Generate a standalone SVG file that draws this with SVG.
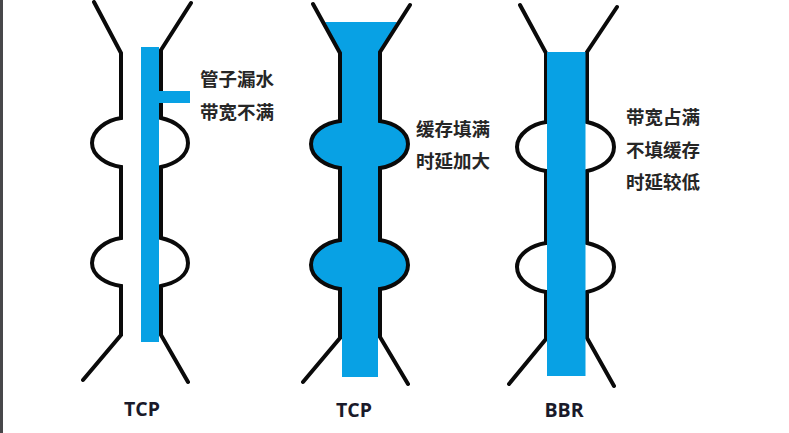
<svg xmlns="http://www.w3.org/2000/svg" width="789" height="433" viewBox="0 0 789 433">
<style>
.w{fill:none;stroke:#0a0a0a;stroke-width:4;stroke-linecap:round;stroke-linejoin:miter}
.b{fill:#08a1e4}
.f{fill:#08a1e4;stroke:none}
.t{font-family:"Noto Sans CJK SC","Noto Sans",sans-serif;font-size:18.500px;font-weight:700;fill:#262626}
.l{font-family:"Open Sans","Liberation Sans",sans-serif;font-size:19.500px;font-weight:700;fill:#1a1a2a;text-anchor:middle}
</style>
<rect width="789" height="433" fill="#fff"/>
<rect width="3" height="433" fill="#47474a"/>
<g id="pipe1">
<path class="w" d="M94 2L121 53V118C107 120 92 130 92 143C92 156 107 165 121 167V238C107 240 92 250 92 263C92 276 107 284 121 286V335L83 380"/>
<path class="w" d="M191 3L161 50V118C175 121 188 130 188 143C188 156 175 164 161 167V238C175 241 188 250 188 263C188 276 175 283 161 286V335L188 382"/>
<rect class="b" x="141" y="47" width="18" height="295"/>
<rect class="b" x="159" y="91" width="31" height="12"/>
<text class="t" x="200" y="86">管子漏水</text>
<text class="t" x="200" y="119">带宽不满</text>
<text class="l" x="142" y="416">TCP</text>
</g>
<g id="pipe2">
<path class="f" d="M325 22H397L380 52V121C394 123 408 131 408 144C408 157 394 166 380 168V240C394 242 408 252 408 265C408 278 394 287 380 289V338H378V377H342V338H340V289C326 287 311 278 311 265C311 252 326 242 340 240V168C326 166 311 157 311 144C311 131 326 123 340 121V53Z"/>
<path class="w" d="M313 4L340 53V121C326 123 311 131 311 144C311 157 326 166 340 168V240C326 242 311 252 311 265C311 278 326 287 340 289V338L303 382"/>
<path class="w" d="M410 5L380 52V121C394 123 408 131 408 144C408 157 394 166 380 168V240C394 242 408 252 408 265C408 278 394 287 380 289V337L408 384"/>
<text class="t" x="416" y="136">缓存填满</text>
<text class="t" x="416" y="168">时延加大</text>
<text class="l" x="354" y="417">TCP</text>
</g>
<g id="pipe3">
<path class="w" d="M520 5L546 53V122C532 124 517 134 517 147C517 160 532 169 546 171V243C532 245 517 254 517 267C517 280 532 290 546 292V339L509 384"/>
<path class="w" d="M617 7L587 52V122C601 125 614 134 614 147C614 160 601 168 587 171V243C601 246 614 254 614 267C614 280 601 289 587 292V338L614 386"/>
<rect class="b" x="547" y="52" width="38.500" height="324"/>
<text class="t" x="626" y="124">带宽占满</text>
<text class="t" x="626" y="157">不填缓存</text>
<text class="t" x="626" y="189">时延较低</text>
<text class="l" x="564" y="417">BBR</text>
</g>
</svg>
